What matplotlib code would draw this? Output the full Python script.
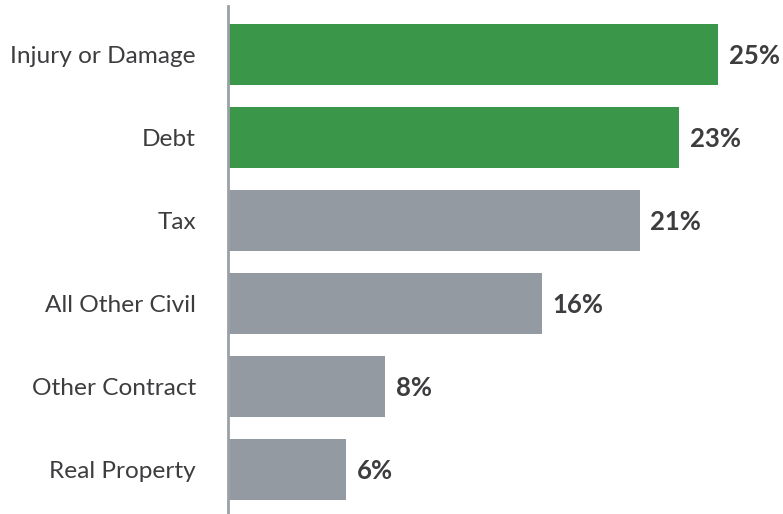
import matplotlib
matplotlib.use("Agg")
import matplotlib.pyplot as plt

categories = ["Injury or Damage", "Debt", "Tax", "All Other Civil", "Other Contract", "Real Property"]
values = [25, 23, 21, 16, 8, 6]
highlight = [True, True, False, False, False, False]

GREEN = "#3a9648"
GRAY = "#939aa1"
TEXT = "#3d3d40"

W, H = 783, 514
fig = plt.figure(figsize=(W / 100, H / 100), dpi=100)
x0 = 228
ax = fig.add_axes([x0 / W, 0, (W - x0) / W, (H - 6) / H])

ypos = list(range(len(categories)))
colors = [GREEN if h else GRAY for h in highlight]
ax.barh(ypos, values, height=0.735, color=colors, left=0)
ax.set_xlim(0, (W - x0) / 19.6)
ax.set_ylim(5.536, -0.584)

for y, v in zip(ypos, values):
    ax.text(v + 0.55, y + 0.02, f"{v}%", va="center", ha="left", fontsize=18.5,
            fontweight="bold", color=TEXT, family="Lato")

ax.set_yticks(ypos)
ax.set_yticklabels(categories, fontsize=17.6, color=TEXT, family="Lato")
for lbl in ax.get_yticklabels():
    lbl.set_y(lbl.get_position()[1])
ax.tick_params(axis="y", length=0, pad=23)
ax.set_xticks([])
for s in ["top", "right", "bottom"]:
    ax.spines[s].set_visible(False)
ax.spines["left"].set_color("#9aa0a6")
ax.spines["left"].set_linewidth(2)

fig.savefig("out.png", dpi=100)
